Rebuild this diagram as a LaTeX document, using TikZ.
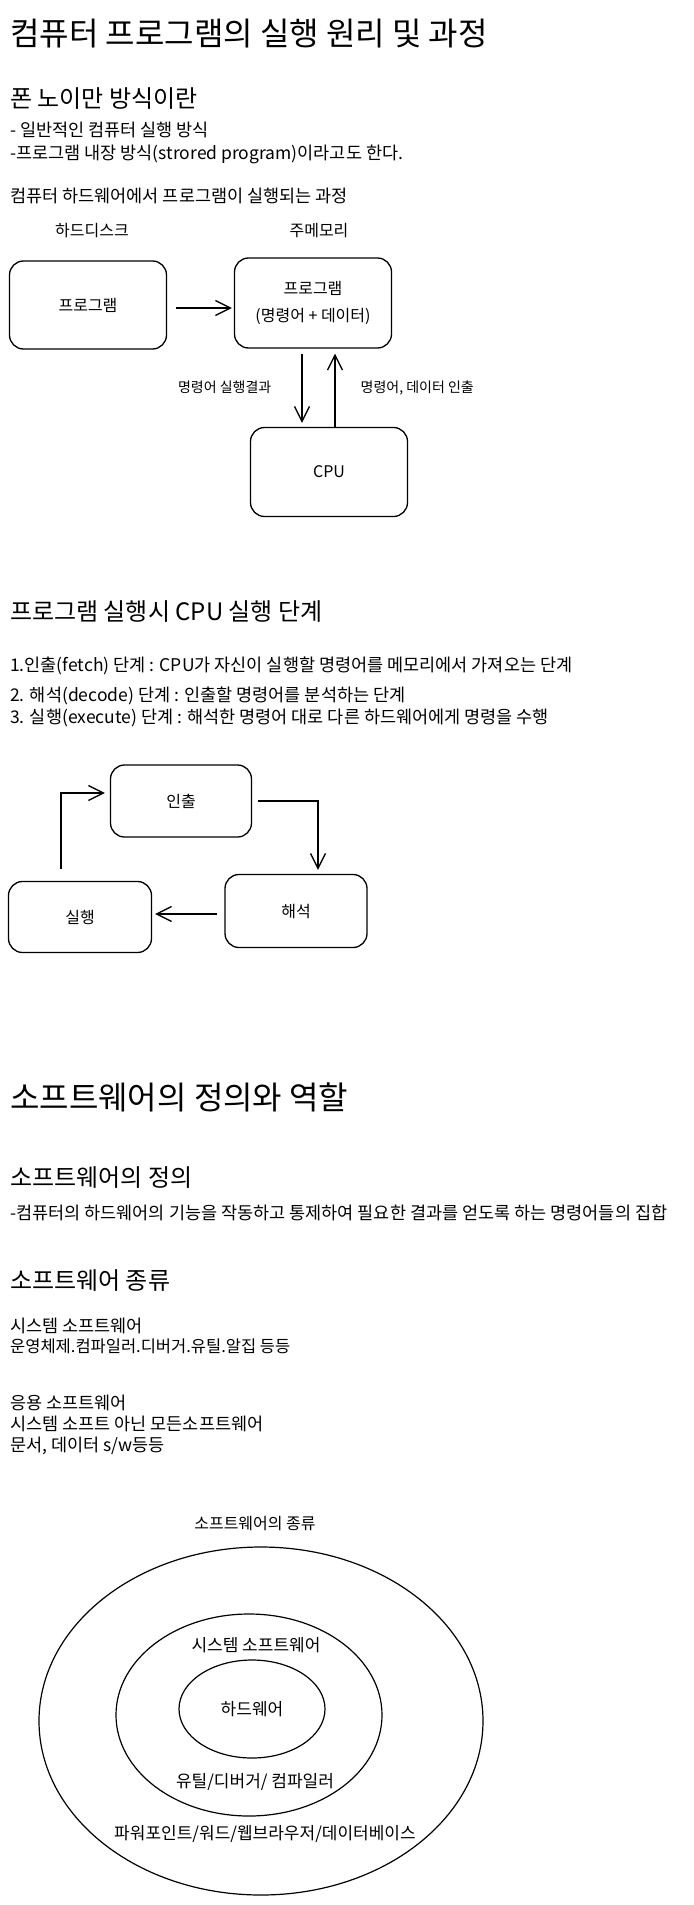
\documentclass[tikz,border=0pt]{standalone}
\usepackage{fontspec}
\setmainfont{Noto Sans CJK KR}
\usetikzlibrary{arrows.meta,shapes.geometric}

\begin{document}
\begin{tikzpicture}[x=1pt, y=-1pt, >={Straight Barb[length=15pt,width=15pt]},
  headtext/.style={anchor=west, inner sep=0pt, font=\fontsize{32}{38}\selectfont},
  subtext/.style={anchor=west, inner sep=0pt, font=\fontsize{24}{29}\selectfont},
  bodytext/.style={anchor=west, inner sep=0pt, font=\fontsize{17.5}{21}\selectfont},
  tag/.style={inner sep=0pt, align=center, font=\fontsize{16}{20}\selectfont},
  ringtag/.style={tag, font=\fontsize{17}{20}\selectfont},
  note/.style={inner sep=0pt, font=\fontsize{14}{17}\selectfont},
  rbox/.style={draw, line width=1.3pt, rounded corners=14pt, align=center,
    font=\fontsize{16}{27}\selectfont},
  ring/.style={draw, ellipse, line width=1.2pt, inner sep=0pt},
  link/.style={->, line width=1.3pt}]
  \path[fill=white, use as bounding box] (0,0) rectangle (693,1905);

  % part 1
  \node[headtext] (title1) at (10,34) {컴퓨터 프로그램의 실행 원리 및 과정};
  \node[subtext] (neumann) at (10,99) {폰 노이만 방식이란};
  \node[bodytext] (line1) at (10,130) {- 일반적인 컴퓨터 실행 방식};
  \node[bodytext] (line2) at (10,154) {-프로그램 내장 방식(strored program)이라고도 한다.};
  \node[bodytext] (flow) at (10,196) {컴퓨터 하드웨어에서 프로그램이 실행되는 과정};

  \node[tag] (hddname) at (92,231) {하드디스크};
  \node[tag] (memname) at (319,231) {주메모리};
  \node[rbox, minimum width=157pt, minimum height=88pt] (hdd) at (88,305) {프로그램};
  \node[rbox, minimum width=157pt, minimum height=90pt] (mem) at (313,303) {프로그램\\(명령어 + 데이터)};
  \node[rbox, minimum width=157pt, minimum height=89pt] (cpu) at (329,472) {CPU};

  \coordinate (down) at ([xshift=-11pt]mem.south);
  \coordinate (up) at ([xshift=22pt]mem.south);

  \draw[link, shorten <=9pt, shorten >=2pt] ([yshift=-3pt]hdd.east) -- ([yshift=-5pt]mem.west);
  \draw[link, shorten <=5pt, shorten >=4pt] (down) -- (down |- cpu.north)
    node[note, midway, left=30pt] (result) {명령어 실행결과};
  \draw[link, shorten >=5pt] (up |- cpu.north) -- (up)
    node[note, midway, right=25pt] (fetchnote) {명령어, 데이터 인출};

  % part 2
  \node[subtext] (steps) at (10,612) {프로그램 실행시 CPU 실행 단계};
  \node[bodytext] (step1) at (10,666) {1.인출(fetch) 단계 : CPU가 자신이 실행할 명령어를 메모리에서 가져오는 단계};
  \node[bodytext] (step2) at (10,696) {2. 해석(decode) 단계 : 인출할 명령어를 분석하는 단계};
  \node[bodytext] (step3) at (10,718) {3. 실행(execute) 단계 : 해석한 명령어 대로 다른 하드웨어에게 명령을 수행};

  \node[rbox, minimum width=141pt, minimum height=72pt] (fetch) at (181,801) {인출};
  \node[rbox, minimum width=142pt, minimum height=73pt] (decode) at (296,911) {해석};
  \node[rbox, minimum width=143pt, minimum height=71pt] (exec) at (80,917) {실행};

  \draw[link] ([xshift=-19pt, yshift=12pt]exec.north) |- ([xshift=-5pt, yshift=8pt]fetch.west);
  \draw[link] ([xshift=6pt]fetch.east) -| ([xshift=22pt, yshift=4pt]decode.north);
  \draw[link] ([xshift=-7pt, yshift=-3pt]decode.west) -- ([xshift=3pt, yshift=3pt]exec.east);

  % part 3
  \node[headtext] (title2) at (10,1097) {소프트웨어의 정의와 역할};
  \node[subtext] (define) at (10,1178) {소프트웨어의 정의};
  \node[bodytext] (defline) at (10,1213) {-컴퓨터의 하드웨어의 기능을 작동하고 통제하여 필요한 결과를 얻도록 하는 명령어들의 집합};
  \node[subtext] (kinds) at (10,1281) {소프트웨어 종류};
  \node[bodytext] (sys1) at (10,1326) {시스템 소프트웨어};
  \node[bodytext, font=\fontsize{16.5}{20}\selectfont] (sys2) at (10,1346) {운영체제.컴파일러.디버거.유틸.알집 등등};
  \node[bodytext] (app1) at (10,1403) {응용 소프트웨어};
  \node[bodytext] (app2) at (10,1424) {시스템 소프트 아닌 모든소프트웨어};
  \node[bodytext] (app3) at (10,1446) {문서, 데이터 s/w등등};

  \node[tag] (kindname) at (255,1523) {소프트웨어의 종류};
  \node[ring, minimum width=444pt, minimum height=348pt] (apps) at (261,1721) {};
  \node[ring, minimum width=266pt, minimum height=202pt] (syssw) at (249,1715) {};
  \node[ring, minimum width=146pt, minimum height=98pt] (hw) at (252,1709) {};
  \node[ringtag] (sysname) at (256,1645) {시스템 소프트웨어};
  \node[ringtag] (hwname) at (252,1709) {하드웨어};
  \node[ringtag] (sysex) at (255,1782) {유틸/디버거/ 컴파일러};
  \node[ringtag] (appex) at (265,1834) {파워포인트/워드/웹브라우저/데이터베이스};
\end{tikzpicture}
\end{document}
